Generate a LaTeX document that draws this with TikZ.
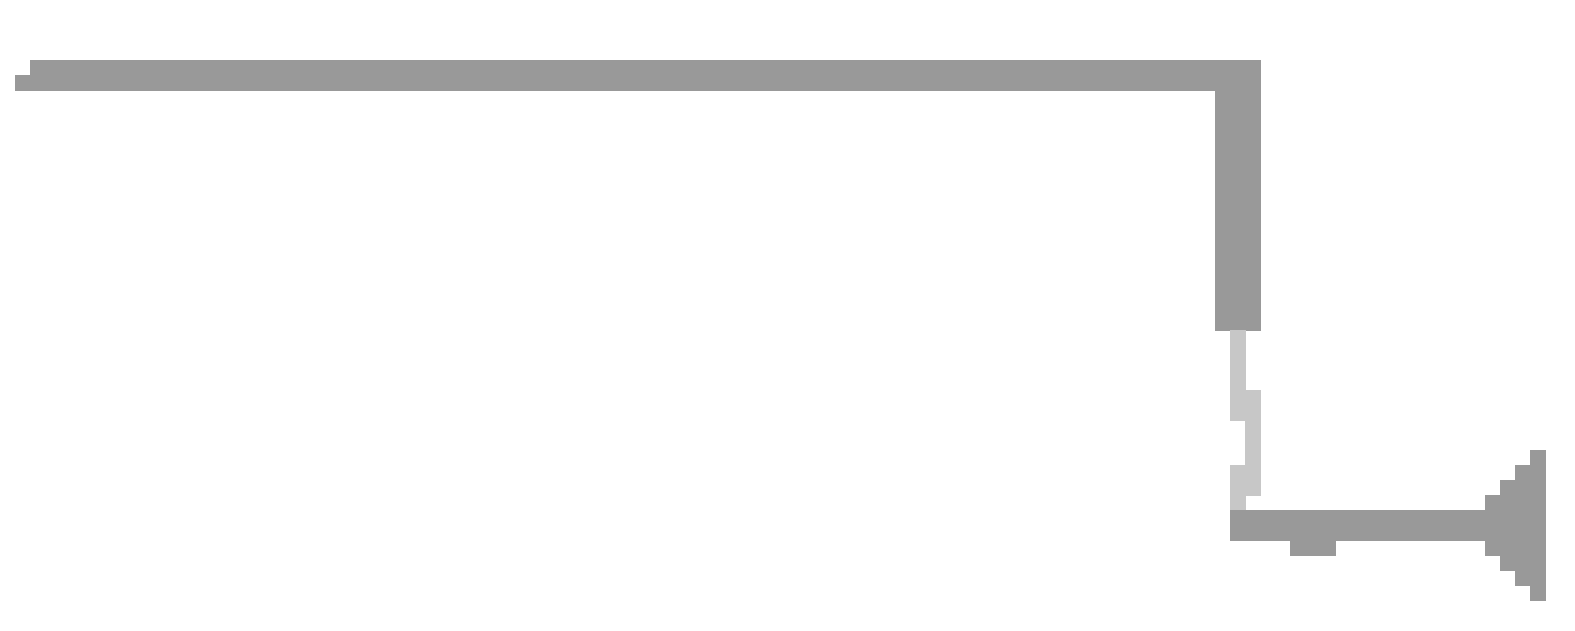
\documentclass[tikz,border=0pt]{standalone}
\usepackage{tikz}

\begin{document}
\begin{tikzpicture}[x=0.2cm,y=-0.2cm,
    darkpix/.style={fill=black!40,draw=black!40,line width=0.2pt},
    lightpix/.style={fill=black!22,draw=black!22,line width=0.2pt}]

      \useasboundingbox (0,0) rectangle (105,42);

      % upper arm
      \fill[darkpix] (1,5) -- (2,5) -- (2,4) -- (84,4) -- (84,22) -- (81,22) -- (81,6) -- (1,6) -- cycle;

      % light link
      \fill[lightpix] (82,22) -- (83,22) -- (83,26) -- (84,26) -- (84,33) -- (83,33) -- (83,34)
        -- (82,34) -- (82,31) -- (83,31) -- (83,28) -- (82,28) -- cycle;

      % lower arm with head
      \fill[darkpix] (82,34) -- (99,34) -- (99,33) -- (100,33) -- (100,32) -- (101,32) -- (101,31)
        -- (102,31) -- (102,30) -- (103,30) -- (103,40) -- (102,40) -- (102,39) -- (101,39)
        -- (101,38) -- (100,38) -- (100,37) -- (99,37) -- (99,36) -- (89,36) -- (89,37)
        -- (86,37) -- (86,36) -- (82,36) -- cycle;

\end{tikzpicture}
\end{document}
